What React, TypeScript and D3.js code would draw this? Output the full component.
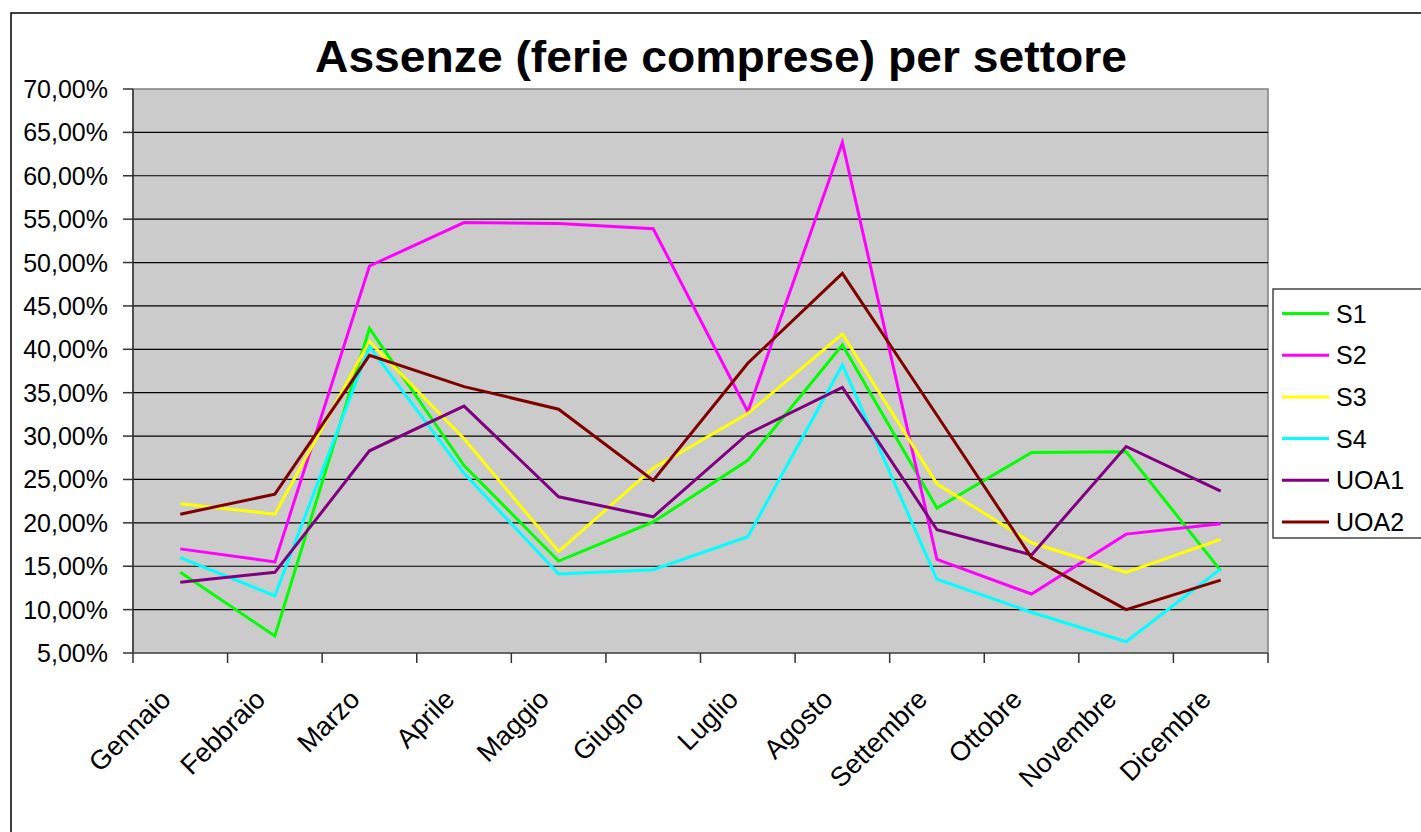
import React from "react";
import * as d3 from "d3";

// Mesi e serie (valori in %)
const months = [
  "Gennaio", "Febbraio", "Marzo", "Aprile", "Maggio", "Giugno",
  "Luglio", "Agosto", "Settembre", "Ottobre", "Novembre", "Dicembre",
];
const S1 = [14.3, 6.96, 42.4, 26.6, 15.6, 20.1, 27.2, 40.5, 21.7, 28.1, 28.2, 14.5];
const S2 = [17.0, 15.5, 49.6, 54.6, 54.5, 53.9, 32.8, 63.85, 15.8, 11.8, 18.7, 19.9];
const S3 = [22.2, 21.0, 40.9, 29.7, 16.7, 26.3, 32.6, 41.75, 24.5, 17.7, 14.3, 18.1];
const S4 = [16.0, 11.6, 40.3, 25.7, 14.1, 14.6, 18.4, 38.2, 13.5, 9.7, 6.3, 14.7];
const UOA1 = [13.15, 14.3, 28.3, 33.45, 23.0, 20.7, 30.25, 35.6, 19.2, 16.3, 28.8, 23.65];
const UOA2 = [21.0, 23.3, 39.3, 35.7, 33.1, 24.9, 38.4, 48.75, 32.4, 16.0, 10.0, 13.4];
const seriesNames = ["S1", "S2", "S3", "S4", "UOA1", "UOA2"];
const seriesColors = ["#00ff00", "#ff00ff", "#ffff00", "#00ffff", "#800080", "#800000"];
const yTicks = [5, 10, 15, 20, 25, 30, 35, 40, 45, 50, 55, 60, 65, 70];

const W = 1421;
const H = 832;
const font = "'Liberation Sans', Arial, sans-serif";

export default function App() {
  const series = [S1, S2, S3, S4, UOA1, UOA2];

  // area del grafico
  const margin = { top: 89, left: 133, right: 1268, bottom: 653 };

  const x = d3.scaleBand().domain(months).range([margin.left, margin.right]).padding(0);
  const y = d3.scaleLinear().domain([5, 70]).range([margin.bottom, margin.top]);
  const cx = (m: string) => (x(m) as number) + x.bandwidth() / 2;

  const line = d3
    .line<number>()
    .x((_, i) => cx(months[i]))
    .y((d) => y(d));

  const fmt = (v: number) => d3.format(".2f")(v).replace(".", ",") + "%";

  // posizioni dei tick sull'asse x (confini delle categorie)
  const xTickPos = months.map((m) => x(m) as number).concat([margin.right]);

  return (
    <svg
      width={W}
      height={H}
      style={{ position: "absolute", left: 0, top: 0, display: "block", background: "#fff" }}
      fontFamily={font}
    >
      {/* cornice */}
      <rect x={11} y={13} width={W} height={H} fill="#fff" stroke="#000" strokeWidth={1.5} />

      {/* titolo */}
      <text
        x={721}
        y={72}
        textAnchor="middle"
        fontSize={45}
        fontWeight="bold"
        textLength={812}
        lengthAdjust="spacingAndGlyphs"
      >
        Assenze (ferie comprese) per settore
      </text>

      {/* sfondo */}
      <rect
        x={margin.left}
        y={margin.top}
        width={margin.right - margin.left}
        height={margin.bottom - margin.top}
        fill="#cbcbcb"
        stroke="#808080"
        strokeWidth={1.5}
      />

      {/* griglia */}
      {yTicks.slice(1, -1).map((t) => (
        <line
          key={"g" + t}
          x1={margin.left}
          x2={margin.right}
          y1={y(t)}
          y2={y(t)}
          stroke="#000"
          strokeWidth={1.2}
        />
      ))}

      {/* asse y */}
      <line x1={margin.left} x2={margin.left} y1={margin.top} y2={margin.bottom} stroke="#333" strokeWidth={1.5} />
      {yTicks.map((t) => (
        <g key={"y" + t}>
          <line x1={margin.left - 10} x2={margin.left} y1={y(t)} y2={y(t)} stroke="#333" strokeWidth={1.5} />
          <text x={108} y={y(t)} textAnchor="end" dominantBaseline="central" fontSize={25}>
            {fmt(t)}
          </text>
        </g>
      ))}

      {/* asse x */}
      <line x1={margin.left} x2={margin.right} y1={margin.bottom} y2={margin.bottom} stroke="#555" strokeWidth={1.5} />
      {xTickPos.map((p, i) => (
        <line key={"xt" + i} x1={p} x2={p} y1={margin.bottom} y2={margin.bottom + 10} stroke="#333" strokeWidth={1.5} />
      ))}
      {months.map((m) => (
        <text
          key={m}
          transform={`translate(${cx(m) - 8},${margin.bottom + 48}) rotate(-45)`}
          textAnchor="end"
          fontSize={27}
        >
          {m}
        </text>
      ))}

      {/* linee */}
      {series.map((s, i) => (
        <path
          key={seriesNames[i]}
          d={line(s) as string}
          fill="none"
          stroke={seriesColors[i]}
          strokeWidth={3}
          strokeLinejoin="miter"
        />
      ))}

      {/* legenda */}
      <rect x={1273} y={289} width={160} height={249} fill="#fff" stroke="#444" strokeWidth={1.5} />
      {seriesNames.map((n, i) => (
        <g key={"l" + n} transform={`translate(0,${313.5 + i * 41.7})`}>
          <line x1={1282} x2={1329} y1={0} y2={0} stroke={seriesColors[i]} strokeWidth={3} />
          <text x={1336} y={0} dominantBaseline="central" fontSize={25}>
            {n}
          </text>
        </g>
      ))}
    </svg>
  );
}
